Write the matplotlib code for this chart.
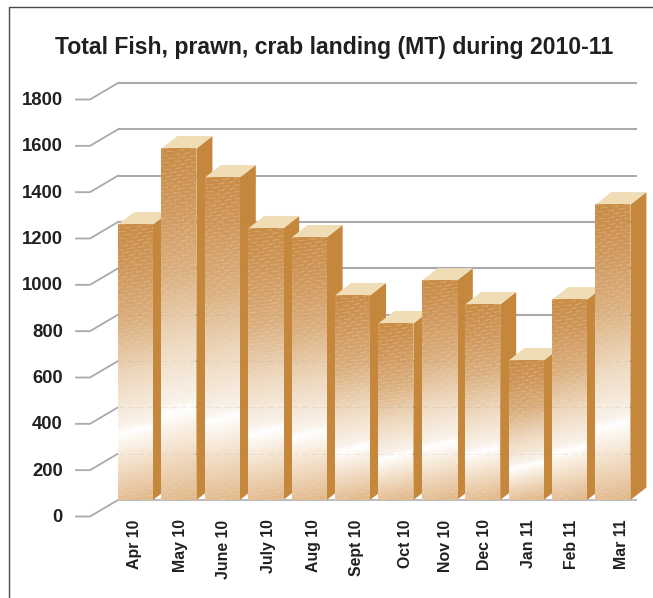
import numpy as np
import matplotlib
matplotlib.use("Agg")
import matplotlib.pyplot as plt
from matplotlib.lines import Line2D
from matplotlib.patches import Polygon
from matplotlib.transforms import ScaledTranslation

plt.rcParams['font.family'] = ['Liberation Sans', 'DejaVu Sans']

months = ["Apr 10", "May 10", "June 10", "July 10", "Aug 10", "Sept 10",
          "Oct 10", "Nov 10", "Dec 10", "Jan 11", "Feb 11", "Mar 11"]
landing = [1243, 1571, 1446, 1226, 1187, 937, 816, 1001, 898, 656, 919, 1329]
yticks = [0, 200, 400, 600, 800, 1000, 1200, 1400, 1600, 1800]

# label nudges in pixels, the labels are not quite under their bars
label_shift = [-1, 2, 1, 3, 4, 4, 10, 6, 2, 2, 2, 9]

W, H = 653, 598
x_left, x_right = 118, 637
y_base, y_top = 500, 83
step = 43.4        # px per bar
first = 135.5      # px of first bar centre
bar_w = 35 / step
per_unit = (y_base - y_top) / 1800   # px per MT
depth_x = 16 / step
depth_y = 12.5 / per_unit
front_y = 16.5 / per_unit            # wall to front tick

text_col = "#231F20"
grid_col = "#A9A9AE"
side_col = "#C4873C"
top_col = "#F0DDB5"

stops = [0, 0.15, 0.35, 0.55, 0.72, 0.745, 0.78, 1]
stop_cols = np.array([[202, 141, 72], [208, 152, 92], [219, 176, 128], [238, 217, 192], [250, 243, 235],
                      [255, 255, 255], [252, 245, 236], [226, 185, 140]], dtype=float)


def face_image(height):
    # brown to white gradient with a tilted shine and little light dashes
    yy, xx = np.mgrid[0:height, 0:35]
    t = np.clip((yy + 0.22 * xx - 4) / height, 0, 1)
    rgb = np.stack([np.interp(t, stops, stop_cols[:, c]) for c in range(3)], axis=2)
    slant = yy + 0.12 * xx
    row = np.floor(slant / 3.5)
    dash = ((slant % 3.5) < 1.2) & (((xx + row * 5) % 11) < 7)
    fade = np.clip(np.abs(t - 0.745) / 0.25, 0, 1) * 0.2
    light = np.array([250, 232, 205], dtype=float)
    rgb[dash] = rgb[dash] * (1 - fade[dash][:, None]) + light * fade[dash][:, None]
    return rgb / 255


fig = plt.figure(figsize=(W / 100, H / 100), dpi=100)
ax = fig.add_axes([x_left / W, 1 - y_base / H, (x_right - x_left) / W, (y_base - y_top) / H])
ax.set_xlim((x_left - first) / step, (x_right - first) / step)
ax.set_ylim(0, 1800)
for s in ax.spines.values():
    s.set_visible(False)
xl = ax.get_xlim()

# walls and the stubs out to the tick labels
for v in yticks:
    col = "#BDBDC0" if v == 0 else grid_col
    ax.plot(xl, [v, v], color=col, lw=1.5, zorder=1, clip_on=False, solid_capstyle='butt')
    ax.plot([xl[0] - 42 / step, xl[0] - 28 / step, xl[0]], [v - front_y, v - front_y, v],
            color=grid_col, lw=1.3, zorder=1, clip_on=False)

for i, v in enumerate(landing):
    z = 3 + i
    face = v - depth_y
    l, r = i - bar_w / 2, i + bar_w / 2
    ax.add_patch(Polygon([(r, 0), (r + depth_x, depth_y), (r + depth_x, v), (r, face)],
                         color=side_col, lw=0, zorder=z, clip_on=False))
    ax.add_patch(Polygon([(l, face), (r, face), (r + depth_x, v), (l + depth_x, v)],
                         color=top_col, lw=0, zorder=z, clip_on=False))
    ax.imshow(face_image(int(round(face * per_unit))), extent=(l, r, 0, face), aspect='auto',
              interpolation='bilinear', zorder=z, clip_on=False)
    for g in yticks[1:]:
        if g < face:
            ax.plot([l, r], [g, g], color="#8A8A8A", lw=0.7, ls=(0, (6, 4)), alpha=0.14,
                    zorder=z, clip_on=False)

ax.set_xlim(xl)
ax.set_ylim(0, 1800)

ax.set_yticks(yticks)
ax.set_xticks(range(len(months)))
ax.set_xticklabels(months, rotation=90, ha='center', va='top')
ax.tick_params(axis='y', length=0, pad=39.6, labelsize=13.3, labelcolor=text_col)
ax.tick_params(axis='x', length=0, pad=14, labelsize=11.4, labelcolor=text_col)
for lab in ax.get_yticklabels():
    lab.set_fontweight('bold')
    lab.set_transform(lab.get_transform() + ScaledTranslation(0, -15.5 / 100, fig.dpi_scale_trans))
for lab, sh in zip(ax.get_xticklabels(), label_shift):
    lab.set_fontweight('bold')
    lab.set_transform(lab.get_transform() + ScaledTranslation(sh / 100, 0, fig.dpi_scale_trans))

ax.set_title("Total Fish, prawn, crab landing (MT) during 2010-11", x=(334.5 - x_left) / (x_right - x_left),
             pad=21, fontsize=16.6, fontweight='bold', color=text_col)

# frame of the page, left and top only
fig.add_artist(Line2D([9 / W, 9 / W, 1], [0, 1 - 6.5 / H, 1 - 6.5 / H], color="#4A4A4A", lw=1))

fig.savefig("out.png", dpi=100)
